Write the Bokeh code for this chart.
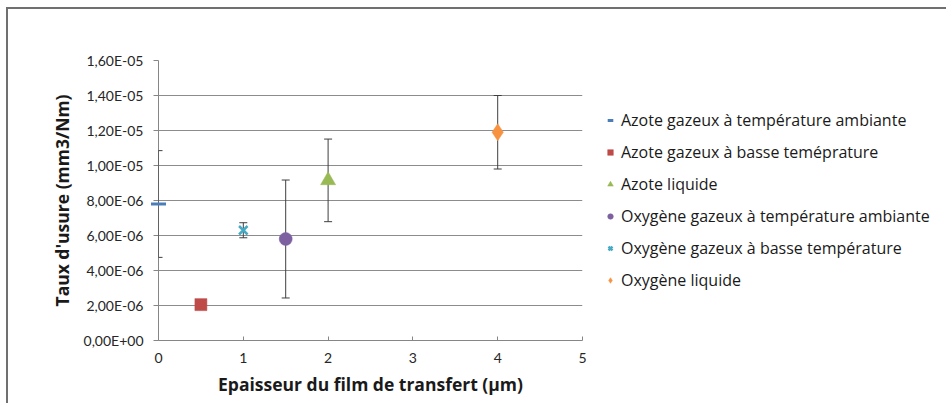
from bokeh.plotting import figure
from bokeh.models import (ColumnDataSource, Whisker, TeeHead, Legend, LegendItem,
                          FixedTicker, CustomJSTickFormatter, Range1d)
from bokeh.embed import file_html
from bokeh.resources import INLINE

# ---- data ----
series = ["Azote gazeux à température ambiante",
          "Azote gazeux à basse teméprature",
          "Azote liquide",
          "Oxygène gazeux à température ambiante",
          "Oxygène gazeux à basse température",
          "Oxygène liquide"]
thickness = [0, 0.5, 2, 1.5, 1, 4]
wear = [7.8e-6, 2.05e-6, 9.15e-6, 5.8e-6, 6.3e-6, 1.19e-5]
err = [3.05e-6, 0.0, 2.36e-6, 3.37e-6, 0.43e-6, 2.1e-6]
markers = ["dash", "square", "triangle", "circle", "x", "diamond"]
colors = ["#4a7ebb", "#be4b48", "#98b954", "#7d60a0", "#46aac5", "#f69240"]
sizes = [15, 12, 15, 13, 12, 17]
y_ticks = [0, 2e-6, 4e-6, 6e-6, 8e-6, 1e-5, 1.2e-5, 1.4e-5, 1.6e-5]
x_ticks = [0, 1, 2, 3, 4, 5]

FONT = "Open Sans"
TICK_FONT = "Lato"

p = figure(frame_width=424, frame_height=280, output_backend="svg",
           toolbar_location=None,
           x_range=Range1d(0, 5), y_range=Range1d(0, 1.6e-5),
           min_border_left=150, min_border_right=364, min_border_top=51,
           min_border_bottom=63)
p.styles = {"margin-left": "6px", "margin-top": "7px",
            "border-left": "2px solid #707070", "border-top": "2px solid #707070"}
p.outline_line_color = None
p.background_fill_color = "white"
p.border_fill_color = "white"

# grid
p.xgrid.grid_line_color = None
p.ygrid.grid_line_color = "#8c8c8c"
p.ygrid.grid_line_width = 1

# axes
p.yaxis.ticker = FixedTicker(ticks=y_ticks)
p.xaxis.ticker = FixedTicker(ticks=x_ticks)
p.yaxis.formatter = CustomJSTickFormatter(code="""
    const s = tick.toExponential(2);
    let [m, e] = s.split('e');
    let sign = e[0] === '-' ? '-' : '+';
    let d = e.replace('+','').replace('-','');
    if (d.length < 2) d = '0' + d;
    return m.replace('.', ',') + 'E' + sign + d;
""")
for ax in (p.xaxis[0], p.yaxis[0]):
    ax.axis_line_color = "#868686"
    ax.major_tick_line_color = "#868686"
    ax.minor_tick_line_color = None
    ax.major_label_text_font = TICK_FONT
    ax.major_label_text_font_size = "14px"
    ax.major_label_text_color = "#262626"
    ax.axis_label_text_font = FONT
    ax.axis_label_text_font_size = "17.5px"
    ax.axis_label_text_font_style = "bold"
    ax.axis_label_text_color = "#1a1a1a"
p.yaxis.major_tick_in = 0
p.yaxis.major_tick_out = 5
p.yaxis.major_label_standoff = 10
p.yaxis.axis_label = "Taux d'usure (mm3/Nm)"
p.yaxis.axis_label_standoff = 7
p.xaxis.major_tick_in = 4
p.xaxis.major_tick_out = 0
p.xaxis.major_label_standoff = 12
p.xaxis.axis_label = "Epaisseur du film de transfert (µm)"
p.xaxis.axis_label_standoff = 6

# error bars
ex = [x for x, e in zip(thickness, err) if e > 0]
ey_up = [y + e for y, e in zip(wear, err) if e > 0]
ey_lo = [y - e for y, e in zip(wear, err) if e > 0]
esrc = ColumnDataSource(dict(x=ex, upper=ey_up, lower=ey_lo))
wh = Whisker(base="x", upper="upper", lower="lower", source=esrc,
             line_color="#3f3f3f", line_width=1, level="annotation",
             upper_head=TeeHead(size=8, line_color="#3f3f3f", line_width=1),
             lower_head=TeeHead(size=8, line_color="#3f3f3f", line_width=1))
p.add_layout(wh)

items = []
for i, name in enumerate(series):
    src = ColumnDataSource(dict(x=[thickness[i]], y=[wear[i]]))
    if markers[i] in ("dash", "x"):
        r = p.scatter("x", "y", source=src, marker=markers[i], size=sizes[i],
                      line_color=colors[i], line_width=3 if markers[i] == "dash" else 2.5,
                      fill_color=colors[i], level="overlay")
    else:
        r = p.scatter("x", "y", source=src, marker=markers[i], size=sizes[i],
                      fill_color=colors[i], line_color=colors[i], line_width=0.5,
                      level="overlay")
    items.append(LegendItem(label=name, renderers=[r]))

legend = Legend(items=items, location="left", orientation="vertical",
                label_text_font=FONT, label_text_font_size="16px",
                label_text_color="#1a1a1a", glyph_width=14, glyph_height=14,
                label_height=20, spacing=10, padding=0, margin=21,
                label_standoff=4, border_line_color=None,
                background_fill_alpha=0)
p.add_layout(legend, "right")

open("out.html", "w").write(file_html(p, INLINE))
